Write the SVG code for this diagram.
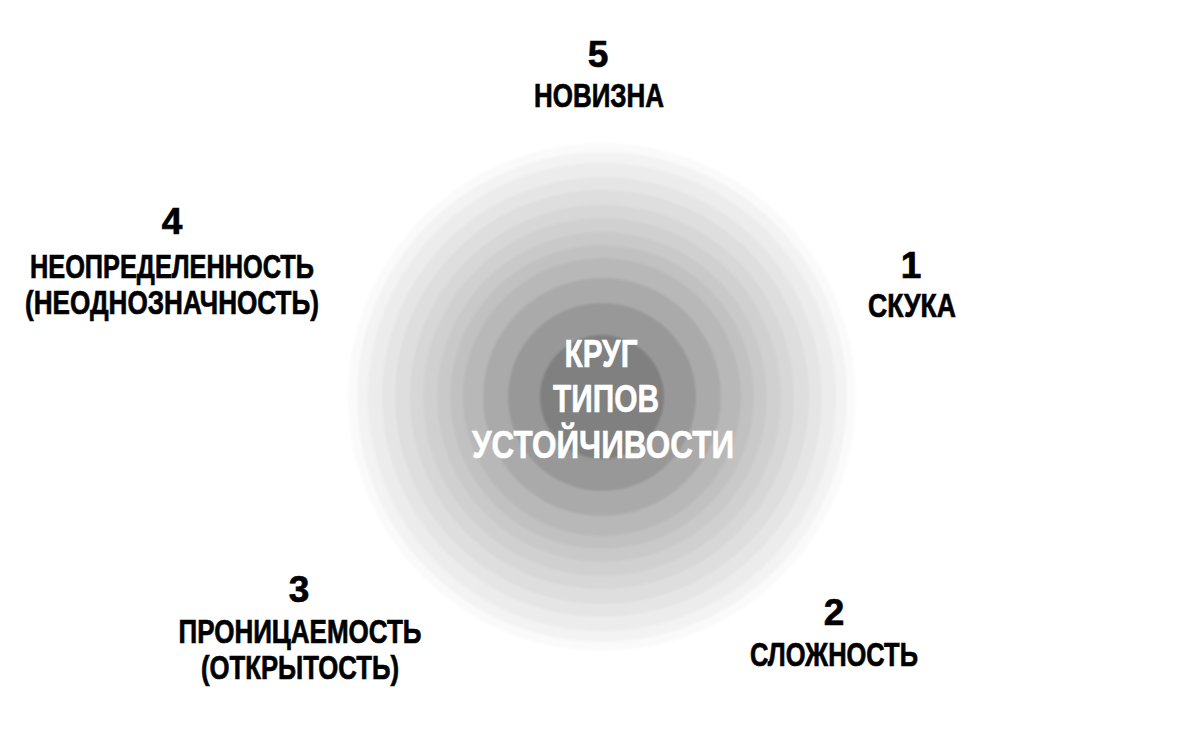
<svg xmlns="http://www.w3.org/2000/svg" width="1200" height="742" viewBox="0 0 1200 742">
  <defs>
    <style>
      .lbl { font-family: "Liberation Sans", Arial, sans-serif; font-weight: bold; fill: #000; stroke: #000; stroke-width: 0.7px; text-anchor: middle; }
      .num { font-size: 37px; }
      .txt { font-size: 33px; }
      .ctr { font-family: "Liberation Sans", Arial, sans-serif; font-weight: bold; fill: #fff; stroke: #fff; stroke-width: 0.6px; text-anchor: middle; font-size: 38px; }
    </style>
    <filter id="soft" x="-10%" y="-10%" width="120%" height="120%">
      <feGaussianBlur stdDeviation="1.2"/>
    </filter>
  </defs>
  <rect width="1200" height="742" fill="#fff"/>

  <g id="circle" filter="url(#soft)">
    <circle cx="602" cy="397" r="254" fill="#fafafa"/>
    <circle cx="602" cy="397" r="245" fill="#f3f3f3"/>
    <circle cx="602" cy="397" r="234" fill="#ececec"/>
    <circle cx="602" cy="397" r="220" fill="#e5e5e5"/>
    <circle cx="602" cy="397" r="207" fill="#dedede"/>
    <circle cx="602" cy="397" r="192" fill="#d7d7d7"/>
    <circle cx="602" cy="397" r="179" fill="#d0d0d0"/>
    <circle cx="602" cy="397" r="165" fill="#c9c9c9"/>
    <circle cx="602" cy="397" r="152" fill="#c1c1c1"/>
    <circle cx="602" cy="397" r="139" fill="#b8b8b8"/>
    <circle cx="602" cy="397" r="119" fill="#aaaaaa"/>
    <circle cx="602" cy="397" r="94" fill="#989898"/>
    <circle cx="602" cy="397" r="62" fill="#808080"/>
  </g>

  <g id="center-label">
    <text class="ctr" x="601" y="367" textLength="73" lengthAdjust="spacingAndGlyphs">КРУГ</text>
    <text class="ctr" x="606" y="412" textLength="106" lengthAdjust="spacingAndGlyphs">ТИПОВ</text>
    <text class="ctr" x="603" y="458" textLength="262" lengthAdjust="spacingAndGlyphs">УСТОЙЧИВОСТИ</text>
  </g>

  <g id="node-5">
    <text class="lbl num" x="598" y="67">5</text>
    <text class="lbl txt" x="599" y="107" textLength="130" lengthAdjust="spacingAndGlyphs">НОВИЗНА</text>
  </g>

  <g id="node-4">
    <text class="lbl num" x="172" y="234">4</text>
    <text class="lbl txt" x="172" y="278" textLength="284" lengthAdjust="spacingAndGlyphs">НЕОПРЕДЕЛЕННОСТЬ</text>
    <text class="lbl txt" x="172" y="314" textLength="294" lengthAdjust="spacingAndGlyphs">(НЕОДНОЗНАЧНОСТЬ)</text>
  </g>

  <g id="node-1">
    <text class="lbl num" x="911" y="278">1</text>
    <text class="lbl txt" x="912" y="317" textLength="88" lengthAdjust="spacingAndGlyphs">СКУКА</text>
  </g>

  <g id="node-3">
    <text class="lbl num" x="299" y="602">3</text>
    <text class="lbl txt" x="300" y="643" textLength="243" lengthAdjust="spacingAndGlyphs">ПРОНИЦАЕМОСТЬ</text>
    <text class="lbl txt" x="300" y="679" textLength="198" lengthAdjust="spacingAndGlyphs">(ОТКРЫТОСТЬ)</text>
  </g>

  <g id="node-2">
    <text class="lbl num" x="834" y="625">2</text>
    <text class="lbl txt" x="834" y="666" textLength="168" lengthAdjust="spacingAndGlyphs">СЛОЖНОСТЬ</text>
  </g>

  <g id="connectors"></g>
</svg>
